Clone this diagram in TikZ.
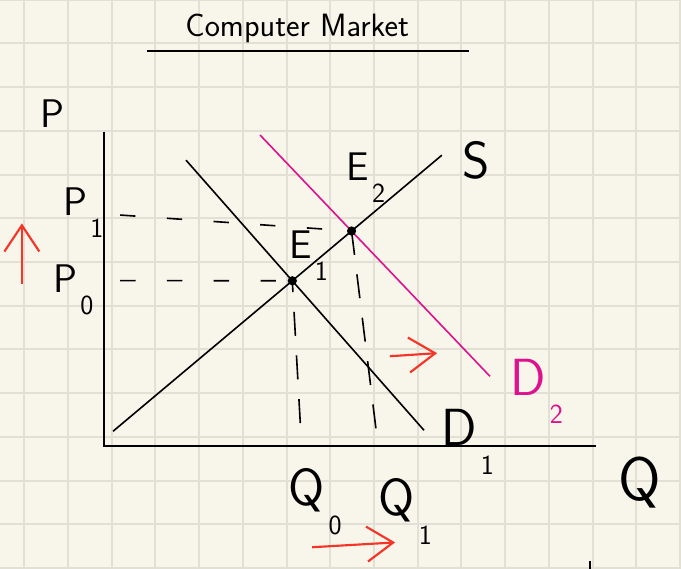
\documentclass[tikz,border=0pt]{standalone}
\usetikzlibrary{arrows.meta}
\definecolor{paper}{RGB}{248,246,234}
\definecolor{gridc}{RGB}{226,224,212}
\definecolor{penred}{RGB}{246,52,40}
\definecolor{penpink}{RGB}{222,18,142}
\newcommand{\lowsub}[1]{\hspace{0.08em}\raisebox{-0.55em}{\fontsize{18}{20}\selectfont #1}}
\tikzset{axis/.style={line width=1.3pt},curve/.style={line width=1.05pt},guide/.style={line width=1.05pt,dash pattern=on 0.35cm off 0.72cm},vguide/.style={line width=1.05pt,dash pattern=on 0.55cm off 0.45cm},move/.style={penred,line width=1.4pt,-{Straight Barb[length=6mm,width=8mm]}},lab/.style={font=\sffamily\fontsize{26}{30}\selectfont,inner sep=0pt},biglab/.style={font=\sffamily\fontsize{34}{38}\selectfont,inner sep=0pt},dot/.style={circle,fill,inner sep=0pt,minimum size=6pt}}

\begin{document}
\begin{tikzpicture}
\fill[paper] (-2.38,-2.79) rectangle (13.20,10.21);
\useasboundingbox (-2.38,-2.79) rectangle (13.20,10.21);
\begin{scope}
\clip (-2.38,-2.79) rectangle (13.20,10.21);
\draw[gridc,line width=1.3pt,shift={(0.176,0.215)}] (-3,-4) grid (14,11);
\end{scope}
\node[font=\sffamily\fontsize{21}{24}\selectfont] (title) at (4.42,9.55) {Computer Market};
\coordinate (ul0) at (0.98,9.04);
\coordinate (ul1) at (8.35,9.04);
\draw[axis] (ul0) -- (ul1);
\coordinate (O) at (0,0);
\coordinate (ytop) at (0,7.19);
\coordinate (xend) at (11.26,0);
\draw[axis] (ytop) -- (O) -- (xend);
\coordinate (s0) at (0.206,0.343);
\coordinate (s1) at (7.73,6.66);
\coordinate (da0) at (1.876,6.545);
\coordinate (da1) at (7.32,0.366);
\coordinate (db0) at (3.57,7.12);
\coordinate (db1) at (8.83,1.60);
\draw[curve] (s0) -- (s1);
\draw[curve] (da0) -- (da1);
\draw[curve,penpink] (db0) -- (db1);
\coordinate (E1) at (intersection of s0--s1 and da0--da1);
\coordinate (E2) at (intersection of s0--s1 and db0--db1);
\coordinate (p0) at (0.37,3.79);
\coordinate (p1) at (0.37,5.29);
\coordinate (q0) at (4.49,0.53);
\coordinate (q1) at (6.22,0.41);
\draw[guide] (p0) -- (E1);
\draw[guide] (p1) -- (E2);
\draw[vguide] (q0) -- (E1);
\draw[vguide] (q1) -- (E2);
\node[dot] (e1dot) at (E1) {};
\node[dot] (e2dot) at (E2) {};
\node[lab] (plab) at (-1.17,7.62) {P};
\node[lab,anchor=base west] (p1lab) at (-0.94,5.29) {P\lowsub{1}};
\node[lab,anchor=base west] (p0lab) at (-1.17,3.52) {P\lowsub{0}};
\node[lab,anchor=base west] (e1lab) at (4.23,4.30) {E\lowsub{1}};
\node[lab,anchor=base west] (e2lab) at (5.54,6.09) {E\lowsub{2}};
\node[biglab,anchor=base west] (slab) at (8.19,6.13) {S};
\node[biglab,anchor=base west] (d1lab) at (7.71,0.02) {D\lowsub{1}};
\node[biglab,anchor=base west,penpink] (d2lab) at (9.29,1.17) {D\lowsub{2}};
\node[biglab,anchor=base west] (q0lab) at (4.21,-1.35) {Q\lowsub{0}};
\node[biglab,anchor=base west] (q1lab) at (6.27,-1.58) {Q\lowsub{1}};
\node[font=\sffamily\fontsize{40}{44}\selectfont,inner sep=0pt,anchor=base west] (qlab) at (11.76,-1.24) {Q};
\coordinate (up0) at (-1.88,3.71);
\coordinate (up1) at (-1.88,5.10);
\coordinate (mid0) at (6.54,2.06);
\coordinate (mid1) at (7.62,2.13);
\coordinate (low0) at (4.76,-2.31);
\coordinate (low1) at (6.66,-2.20);
\draw[move] (up0) -- (up1);
\draw[move] (mid0) -- (mid1);
\draw[move] (low0) -- (low1);
\coordinate (mark) at (11.12,-2.62);
\draw[axis] (mark) -- ++(0,-0.2);
\end{tikzpicture}
\end{document}
